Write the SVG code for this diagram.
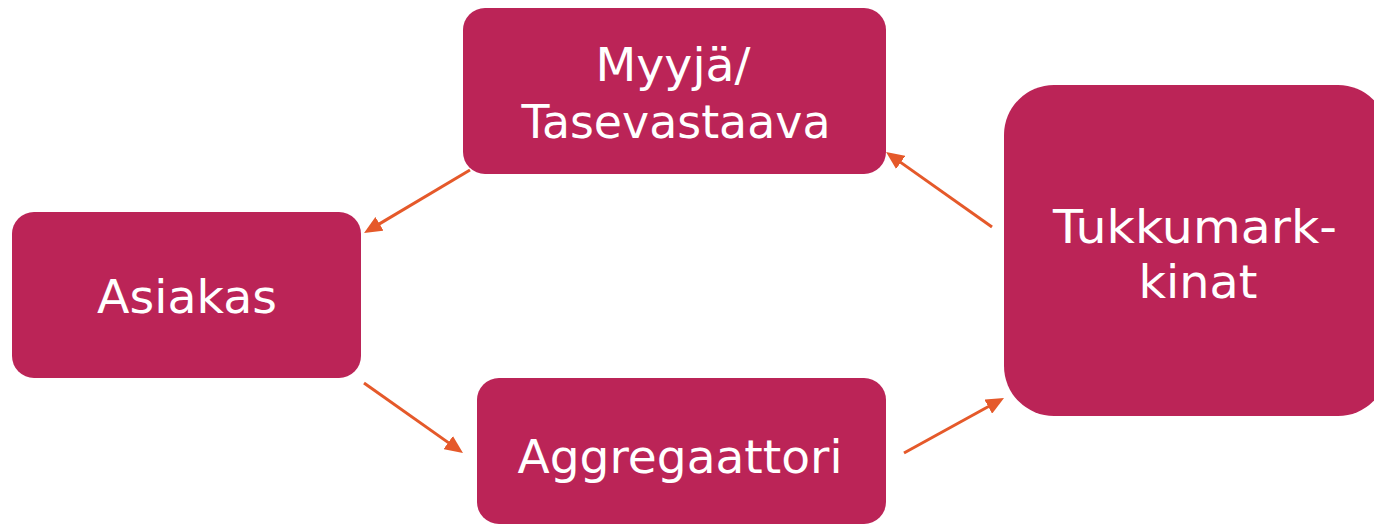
<svg xmlns="http://www.w3.org/2000/svg" width="1374" height="526" viewBox="0 0 1374 526">
  <style>
    .box { fill: #BB2457; }
    .lbl { fill: #FFFFFF; font-family: "DejaVu Sans", Verdana, sans-serif; font-size: 47px; text-anchor: middle; }
    .conn { stroke: #E5592A; stroke-width: 3; fill: none; }
  </style>
  <defs>
    <marker id="arr" viewBox="0 0 18 16" markerWidth="18" markerHeight="16" refX="7" refY="8" orient="auto" markerUnits="userSpaceOnUse">
      <path d="M0,0 L18,8 L0,16 z" fill="#E5592A"/>
    </marker>
  </defs>
  <rect width="1374" height="526" fill="#FFFFFF"/>
  <g id="myyja">
    <rect class="box" x="463" y="8" width="423" height="166" rx="22"/>
    <text class="lbl" x="673" y="81" textLength="155" lengthAdjust="spacingAndGlyphs">Myyjä/</text>
    <text class="lbl" x="676" y="138" textLength="309" lengthAdjust="spacingAndGlyphs">Tasevastaava</text>
  </g>
  <g id="asiakas">
    <rect class="box" x="12" y="212" width="349" height="166" rx="22"/>
    <text class="lbl" x="187" y="313" textLength="180" lengthAdjust="spacingAndGlyphs">Asiakas</text>
  </g>
  <g id="aggregaattori">
    <rect class="box" x="477" y="378" width="409" height="146" rx="22"/>
    <text class="lbl" x="680" y="473" textLength="325" lengthAdjust="spacingAndGlyphs">Aggregaattori</text>
  </g>
  <g id="tukkumarkkinat">
    <rect class="box" x="1004" y="85" width="384" height="331" rx="50"/>
    <text class="lbl" x="1195" y="243" textLength="284" lengthAdjust="spacingAndGlyphs">Tukkumark-</text>
    <text class="lbl" x="1198" y="298" textLength="119" lengthAdjust="spacingAndGlyphs">kinat</text>
  </g>
  <g id="connectors">
    <line class="conn" x1="470" y1="170" x2="373.5" y2="227.4" marker-end="url(#arr)"/>
    <line class="conn" x1="364" y1="383" x2="454" y2="446.6" marker-end="url(#arr)"/>
    <line class="conn" x1="992" y1="227" x2="895" y2="158.4" marker-end="url(#arr)"/>
    <line class="conn" x1="904" y1="453" x2="994.4" y2="403.3" marker-end="url(#arr)"/>
  </g>
</svg>
